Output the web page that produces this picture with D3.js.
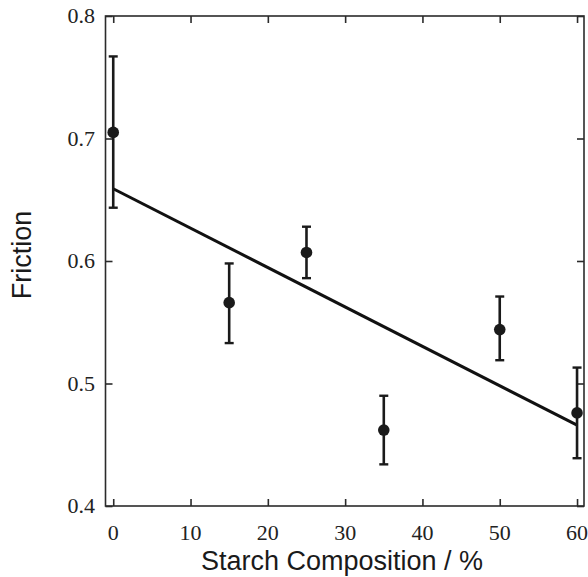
<!doctype html>
<html>
  <head>
    <meta charset="utf-8">
    <title>Friction vs starch composition</title>
    <script src="https://cdnjs.cloudflare.com/ajax/libs/d3/7.8.5/d3.min.js"></script>
    <style>
      body { margin: 0; background: #fff; }
      .tick-label { font-family: "Liberation Serif", "DejaVu Serif", serif; font-size: 22px; fill: #222; }
      .title { font-family: "Liberation Sans", Arial, sans-serif; font-size: 27px; fill: #1a1a1a; }
    </style>
  </head>
  <body>
    <div id="chart"></div>
    <script>
      // data
      const starch = [0, 15, 25, 35, 50, 60];
      const friction = [0.705, 0.566, 0.607, 0.462, 0.544, 0.476];
      const errLow = [0.6435, 0.533, 0.586, 0.434, 0.519, 0.439];
      const errHigh = [0.767, 0.598, 0.628, 0.490, 0.571, 0.513];
      const fitStart = 0.659, fitEnd = 0.466;

      const xTicks = [0, 10, 20, 30, 40, 50, 60];
      const yTicks = [0.4, 0.5, 0.6, 0.7, 0.8];

      const width = 588, height = 577;
      const plotLeft = 105.5, plotRight = 584, plotTop = 16, plotBottom = 506;

      const svg = d3.select('#chart').append('svg')
        .attr('width', width)
        .attr('height', height);

      const x = d3.scaleLinear().domain([-1, 60.9]).range([plotLeft, plotRight]);
      const y = d3.scaleLinear().domain([0.4, 0.8]).range([plotBottom, plotTop]);

      const tickLen = 7;
      const frameColor = '#2b2b2b';

      // inward ticks on all four sides
      svg.append('g').attr('transform', `translate(0,${plotBottom})`)
        .call(d3.axisTop(x).tickValues(xTicks).tickSize(tickLen).tickFormat(''))
        .call(g => g.select('.domain').remove());
      svg.append('g').attr('transform', `translate(0,${plotTop})`)
        .call(d3.axisBottom(x).tickValues(xTicks).tickSize(tickLen).tickFormat(''))
        .call(g => g.select('.domain').remove());
      svg.append('g').attr('transform', `translate(${plotLeft},0)`)
        .call(d3.axisRight(y).tickValues(yTicks).tickSize(tickLen).tickFormat(''))
        .call(g => g.select('.domain').remove());
      svg.append('g').attr('transform', `translate(${plotRight},0)`)
        .call(d3.axisLeft(y).tickValues(yTicks).tickSize(tickLen).tickFormat(''))
        .call(g => g.select('.domain').remove());
      svg.selectAll('.tick line').attr('stroke', frameColor).attr('stroke-width', 1.6);

      // frame
      svg.append('rect')
        .attr('x', plotLeft).attr('y', plotTop)
        .attr('width', plotRight - plotLeft).attr('height', plotBottom - plotTop)
        .attr('fill', 'none').attr('stroke', frameColor).attr('stroke-width', 1.6);

      // tick labels
      svg.selectAll('.xlab').data(xTicks).join('text')
        .attr('class', 'tick-label')
        .attr('x', d => x(d)).attr('y', 540)
        .attr('text-anchor', 'middle')
        .text(d => d);
      svg.selectAll('.ylab').data(yTicks).join('text')
        .attr('class', 'tick-label')
        .attr('x', 95).attr('y', d => y(d)).attr('dy', '0.33em')
        .attr('text-anchor', 'end')
        .text(d => d.toFixed(1));

      // titles
      svg.append('text').attr('class', 'title')
        .attr('x', 342).attr('y', 570)
        .attr('text-anchor', 'middle')
        .text('Starch Composition / %');
      svg.append('text').attr('class', 'title')
        .attr('transform', 'translate(31,255) rotate(-90)')
        .attr('text-anchor', 'middle')
        .text('Friction');

      // fitted line
      svg.append('line')
        .attr('x1', x(starch[0])).attr('y1', y(fitStart))
        .attr('x2', x(starch[starch.length - 1])).attr('y2', y(fitEnd))
        .attr('stroke', '#111').attr('stroke-width', 3);

      // error bars and points
      const pts = starch.map((s, i) => ({ s, f: friction[i], lo: errLow[i], hi: errHigh[i] }));
      const g = svg.append('g');
      g.selectAll('.bar').data(pts).join('line')
        .attr('x1', d => x(d.s)).attr('x2', d => x(d.s))
        .attr('y1', d => y(d.lo)).attr('y2', d => y(d.hi))
        .attr('stroke', '#1a1a1a').attr('stroke-width', 2.6);
      ['lo', 'hi'].forEach(k => {
        g.selectAll('.cap-' + k).data(pts).join('line')
          .attr('class', 'cap-' + k)
          .attr('x1', d => x(d.s) - 4.5).attr('x2', d => x(d.s) + 4.5)
          .attr('y1', d => y(d[k])).attr('y2', d => y(d[k]))
          .attr('stroke', '#1a1a1a').attr('stroke-width', 2.4);
      });
      g.selectAll('circle').data(pts).join('circle')
        .attr('cx', d => x(d.s)).attr('cy', d => y(d.f))
        .attr('r', 5.8).attr('fill', '#1a1a1a');
    </script>
  </body>
</html>
